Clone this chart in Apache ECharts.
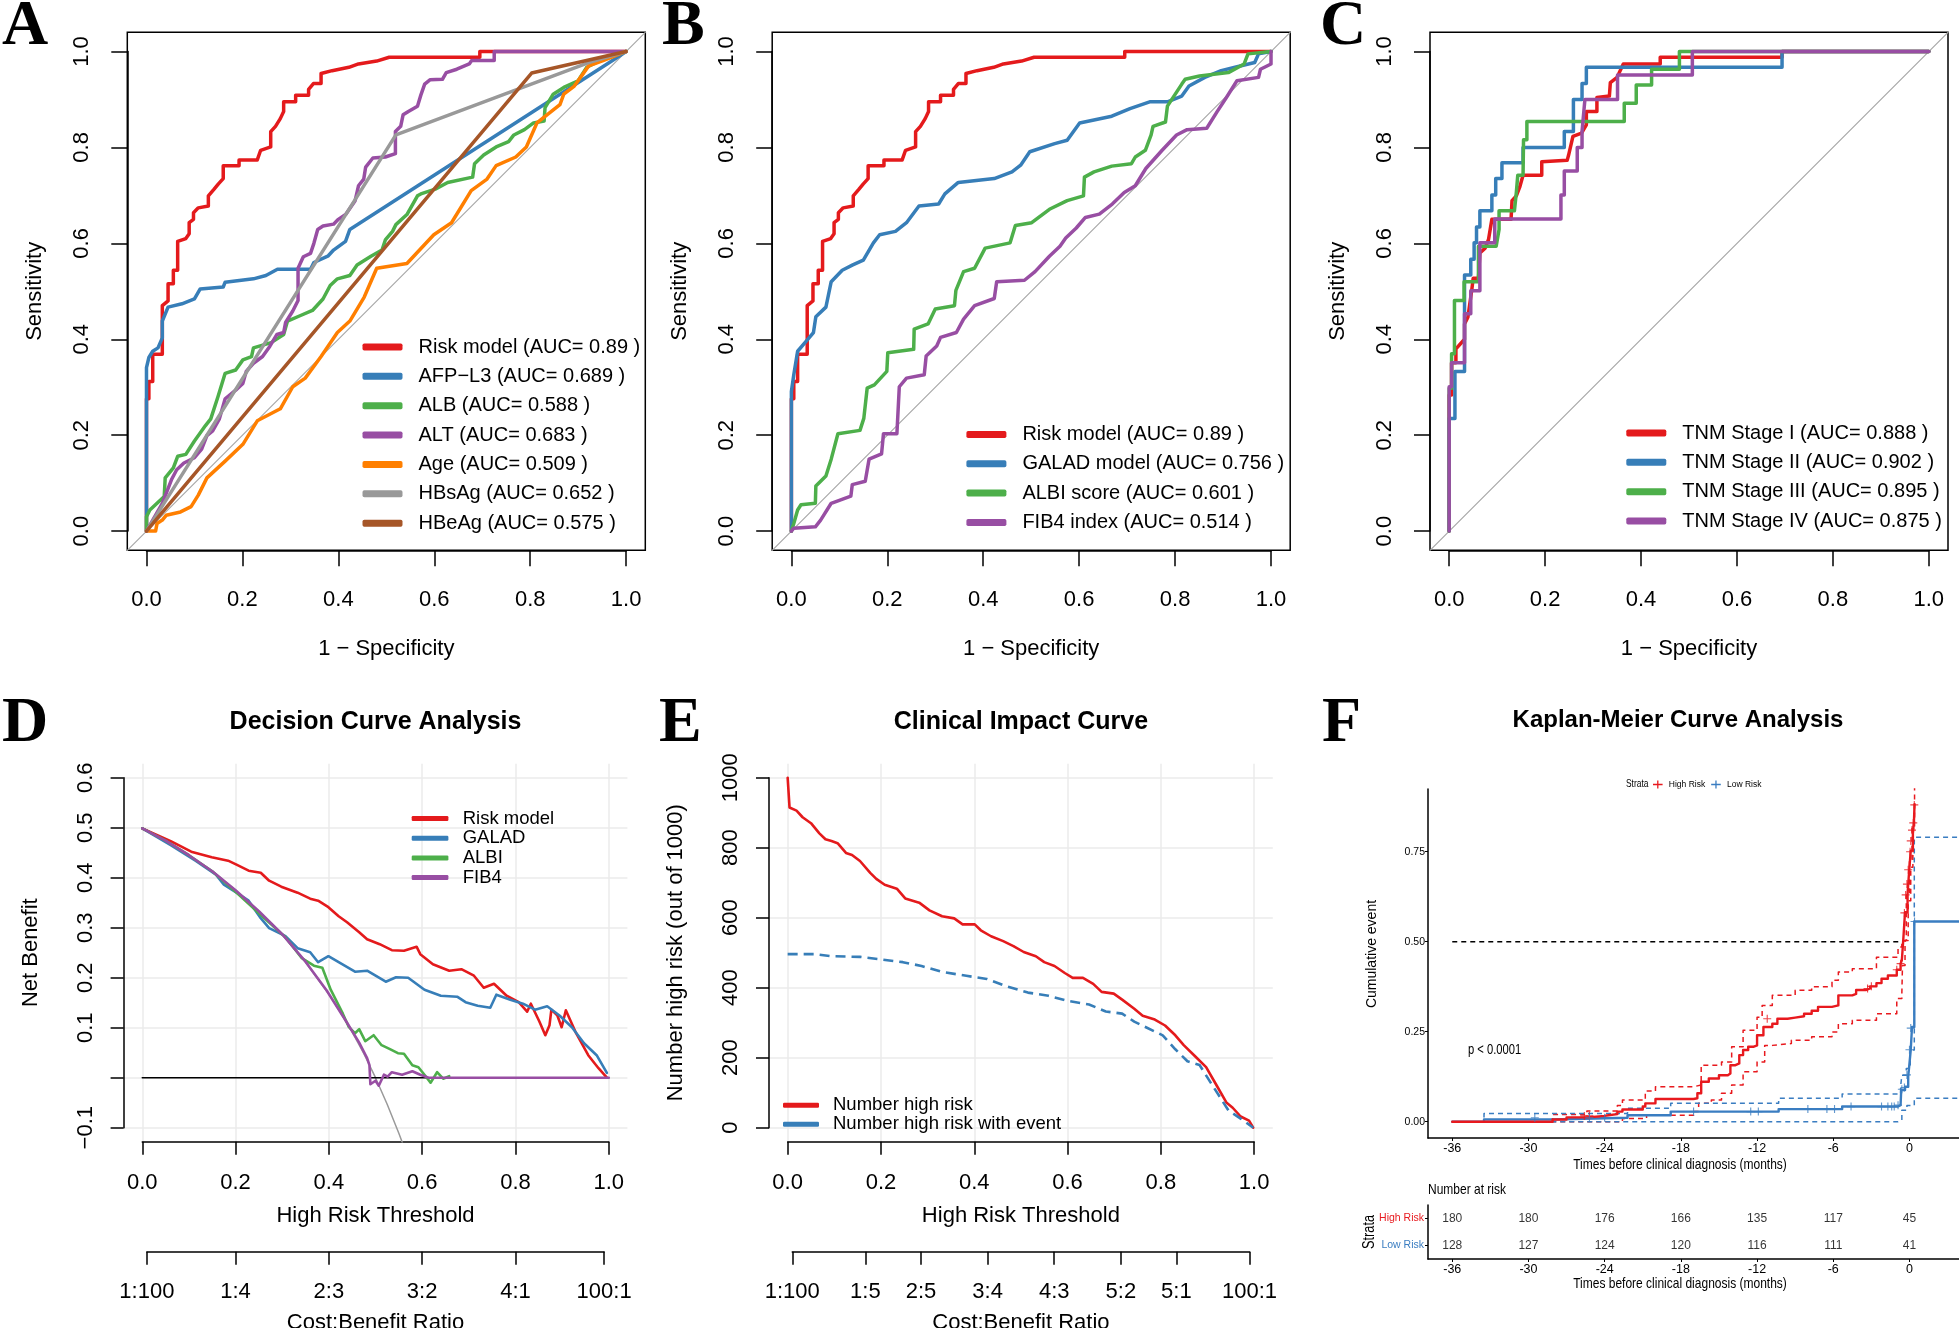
<!DOCTYPE html>
<html><head><meta charset="utf-8">
<script src="https://cdn.jsdelivr.net/npm/echarts@6/dist/echarts.min.js"></script>
<style>html,body{margin:0;padding:0;background:#fff}#chart{width:1959px;height:1328px}</style>
</head><body><div id="chart"></div>
<script>
// ======================= DATA =======================
// Panel A/B ROC curves: [1 - specificity, sensitivity]
const rocRiskModel = [[0,0],[0,0.276],[0.005,0.276],[0.005,0.312],[0.013,0.312],[0.013,0.369],[0.033,0.369],[0.033,0.47],[0.045,0.48],[0.045,0.516],[0.056,0.516],[0.056,0.544],[0.065,0.544],[0.065,0.604],[0.082,0.61],[0.082,0.614],[0.089,0.62],[0.089,0.643],[0.098,0.65],[0.098,0.664],[0.108,0.674],[0.129,0.678],[0.129,0.699],[0.141,0.713],[0.150,0.724],[0.160,0.735],[0.160,0.762],[0.193,0.762],[0.193,0.774],[0.231,0.774],[0.238,0.794],[0.259,0.801],[0.259,0.833],[0.269,0.844],[0.279,0.860],[0.286,0.875],[0.286,0.895],[0.311,0.895],[0.311,0.909],[0.338,0.909],[0.338,0.921],[0.348,0.933],[0.364,0.933],[0.364,0.954],[0.387,0.960],[0.422,0.967],[0.442,0.974],[0.480,0.980],[0.506,0.988],[0.695,0.988],[0.695,1.0],[1,1]];
const rocAFPL3 = [[0,0],[0,0.341],[0.005,0.362],[0.013,0.375],[0.024,0.382],[0.033,0.403],[0.033,0.438],[0.045,0.467],[0.074,0.474],[0.100,0.484],[0.112,0.505],[0.160,0.509],[0.164,0.519],[0.223,0.526],[0.249,0.533],[0.273,0.546],[0.342,0.546],[0.349,0.560],[0.379,0.574],[0.390,0.586],[0.415,0.604],[0.424,0.629],[0.97,0.98],[1,1]];
const rocALB = [[0,0],[0,0.030],[0.007,0.044],[0.022,0.058],[0.037,0.072],[0.039,0.111],[0.056,0.132],[0.065,0.156],[0.082,0.160],[0.100,0.188],[0.123,0.220],[0.134,0.234],[0.149,0.280],[0.164,0.329],[0.186,0.336],[0.201,0.357],[0.219,0.364],[0.223,0.382],[0.260,0.393],[0.286,0.410],[0.294,0.438],[0.320,0.449],[0.346,0.460],[0.368,0.484],[0.383,0.512],[0.398,0.526],[0.424,0.533],[0.439,0.555],[0.468,0.573],[0.491,0.586],[0.498,0.607],[0.513,0.625],[0.520,0.639],[0.543,0.660],[0.565,0.699],[0.572,0.703],[0.602,0.713],[0.628,0.727],[0.680,0.738],[0.684,0.766],[0.703,0.784],[0.729,0.801],[0.755,0.812],[0.766,0.826],[0.788,0.837],[0.807,0.851],[0.829,0.855],[0.831,0.883],[0.848,0.911],[0.870,0.925],[0.900,0.939],[0.918,0.967],[0.959,0.988],[1,1]];
const rocALT = [[0,0],[0.033,0.058],[0.052,0.107],[0.063,0.128],[0.078,0.142],[0.100,0.153],[0.115,0.171],[0.126,0.199],[0.138,0.209],[0.152,0.234],[0.164,0.276],[0.186,0.294],[0.201,0.308],[0.208,0.333],[0.223,0.350],[0.242,0.364],[0.257,0.385],[0.272,0.410],[0.286,0.414],[0.290,0.435],[0.305,0.459],[0.316,0.481],[0.316,0.548],[0.327,0.572],[0.342,0.579],[0.349,0.600],[0.357,0.629],[0.368,0.636],[0.390,0.640],[0.400,0.650],[0.416,0.661],[0.435,0.689],[0.442,0.720],[0.453,0.734],[0.457,0.759],[0.472,0.778],[0.498,0.780],[0.519,0.787],[0.519,0.833],[0.530,0.844],[0.535,0.868],[0.546,0.875],[0.565,0.886],[0.572,0.909],[0.580,0.932],[0.591,0.941],[0.617,0.942],[0.625,0.956],[0.647,0.963],[0.673,0.974],[0.678,0.981],[0.725,0.981],[0.725,1],[1,1]];
const rocAge = [[0,0],[0.019,0],[0.022,0.016],[0.033,0.023],[0.041,0.033],[0.071,0.040],[0.093,0.051],[0.108,0.075],[0.126,0.111],[0.164,0.146],[0.201,0.181],[0.231,0.230],[0.279,0.255],[0.305,0.301],[0.331,0.319],[0.364,0.364],[0.398,0.414],[0.424,0.438],[0.454,0.488],[0.480,0.548],[0.543,0.558],[0.599,0.618],[0.636,0.643],[0.677,0.710],[0.710,0.734],[0.729,0.762],[0.770,0.780],[0.792,0.801],[0.814,0.851],[0.862,0.889],[0.870,0.911],[0.892,0.928],[0.922,0.970],[0.952,0.981],[1,1]];
const rocHBsAg = [[0,0],[0.52,0.826],[0.922,0.977],[1,1]];
const rocHBeAg = [[0,0],[0.803,0.955],[1,1]];
// Panel B
const rocGALAD = [[0,0],[0,0.291],[0.005,0.326],[0.013,0.375],[0.031,0.396],[0.046,0.414],[0.051,0.447],[0.072,0.467],[0.083,0.520],[0.106,0.544],[0.128,0.555],[0.150,0.565],[0.171,0.601],[0.184,0.618],[0.217,0.625],[0.240,0.643],[0.266,0.678],[0.307,0.682],[0.320,0.703],[0.348,0.727],[0.423,0.735],[0.460,0.749],[0.478,0.763],[0.497,0.791],[0.549,0.808],[0.575,0.815],[0.601,0.851],[0.668,0.865],[0.706,0.881],[0.747,0.895],[0.784,0.895],[0.814,0.907],[0.829,0.928],[0.862,0.946],[0.896,0.960],[0.925,0.967],[0.966,0.977],[0.974,0.995],[1,1]];
const rocALBI = [[0,0],[0.005,0.016],[0.013,0.044],[0.020,0.055],[0.050,0.058],[0.051,0.094],[0.072,0.115],[0.083,0.150],[0.097,0.203],[0.143,0.210],[0.151,0.235],[0.158,0.298],[0.173,0.305],[0.199,0.333],[0.201,0.372],[0.255,0.379],[0.256,0.421],[0.285,0.432],[0.300,0.463],[0.340,0.470],[0.343,0.502],[0.359,0.541],[0.382,0.548],[0.404,0.590],[0.456,0.601],[0.467,0.637],[0.501,0.643],[0.538,0.671],[0.575,0.689],[0.609,0.699],[0.611,0.738],[0.631,0.749],[0.668,0.761],[0.709,0.766],[0.717,0.780],[0.738,0.794],[0.750,0.826],[0.754,0.844],[0.780,0.853],[0.784,0.886],[0.799,0.909],[0.814,0.932],[0.821,0.942],[0.851,0.949],[0.911,0.956],[0.944,0.974],[0.952,0.995],[1,1]];
const rocFIB4 = [[0,0],[0.005,0.006],[0.050,0.009],[0.061,0.023],[0.083,0.058],[0.124,0.073],[0.127,0.097],[0.154,0.104],[0.162,0.150],[0.188,0.161],[0.192,0.203],[0.220,0.203],[0.225,0.301],[0.240,0.319],[0.277,0.326],[0.281,0.365],[0.303,0.386],[0.311,0.404],[0.344,0.414],[0.359,0.442],[0.382,0.470],[0.423,0.485],[0.428,0.520],[0.486,0.523],[0.508,0.541],[0.538,0.573],[0.560,0.594],[0.572,0.611],[0.594,0.632],[0.613,0.654],[0.642,0.661],[0.669,0.682],[0.694,0.706],[0.717,0.720],[0.739,0.756],[0.773,0.794],[0.803,0.826],[0.825,0.837],[0.866,0.840],[0.888,0.875],[0.907,0.904],[0.929,0.939],[0.974,0.946],[0.978,0.963],[1.0,0.974],[1,1]];
// Panel C
const rocStageI = [[0,0],[0,0.284],[0.005,0.284],[0.005,0.351],[0.014,0.351],[0.014,0.38],[0.032,0.40],[0.032,0.432],[0.039,0.446],[0.047,0.502],[0.05,0.527],[0.061,0.527],[0.064,0.58],[0.075,0.59],[0.082,0.608],[0.089,0.65],[0.129,0.65],[0.131,0.689],[0.14,0.699],[0.147,0.717],[0.154,0.742],[0.193,0.742],[0.193,0.77],[0.246,0.773],[0.249,0.784],[0.258,0.823],[0.276,0.83],[0.286,0.847],[0.286,0.875],[0.308,0.875],[0.308,0.904],[0.334,0.907],[0.336,0.935],[0.35,0.946],[0.363,0.974],[0.44,0.974],[0.44,0.988],[0.694,0.988],[0.694,1],[1,1]];
const rocStageII = [[0,0],[0,0.235],[0.012,0.235],[0.012,0.333],[0.032,0.333],[0.032,0.534],[0.045,0.534],[0.045,0.567],[0.052,0.567],[0.052,0.601],[0.057,0.601],[0.057,0.634],[0.064,0.634],[0.064,0.668],[0.089,0.668],[0.089,0.701],[0.097,0.701],[0.097,0.735],[0.110,0.735],[0.110,0.768],[0.154,0.768],[0.154,0.800],[0.240,0.800],[0.240,0.833],[0.259,0.833],[0.259,0.900],[0.277,0.900],[0.277,0.933],[0.286,0.933],[0.286,0.967],[0.694,0.967],[0.694,1],[1,1]];
const rocStageIII = [[0,0],[0,0.298],[0.005,0.298],[0.005,0.370],[0.011,0.370],[0.011,0.481],[0.031,0.481],[0.031,0.520],[0.061,0.520],[0.061,0.594],[0.098,0.594],[0.104,0.629],[0.104,0.668],[0.136,0.668],[0.140,0.706],[0.143,0.742],[0.154,0.742],[0.155,0.816],[0.162,0.816],[0.162,0.854],[0.365,0.854],[0.365,0.892],[0.390,0.892],[0.390,0.930],[0.422,0.930],[0.422,0.963],[0.480,0.963],[0.480,1],[1,1]];
const rocStageIV = [[0,0],[0,0.301],[0.005,0.301],[0.005,0.351],[0.032,0.351],[0.032,0.453],[0.045,0.453],[0.045,0.501],[0.064,0.501],[0.064,0.601],[0.095,0.601],[0.095,0.651],[0.233,0.651],[0.233,0.701],[0.240,0.701],[0.240,0.751],[0.267,0.751],[0.267,0.800],[0.277,0.800],[0.277,0.833],[0.283,0.900],[0.351,0.900],[0.351,0.951],[0.507,0.951],[0.507,1],[1,1]];

// Panel D decision curves: [threshold, net benefit]
const dcaAll = [[0,0.5],[0.05,0.474],[0.1,0.444],[0.15,0.412],[0.2,0.375],[0.25,0.333],[0.3,0.286],[0.35,0.231],[0.4,0.167],[0.425,0.130],[0.45,0.091],[0.475,0.048],[0.5,0.0],[0.525,-0.053],[0.55,-0.111],[0.56,-0.136]];
const dcaNone = [[0,0],[1,0]];
const dcaRiskModel = [[0,0.4985],[0.061,0.473],[0.105,0.452],[0.149,0.441],[0.184,0.434],[0.202,0.426],[0.228,0.414],[0.254,0.410],[0.272,0.394],[0.298,0.382],[0.333,0.370],[0.360,0.358],[0.377,0.354],[0.399,0.341],[0.421,0.323],[0.439,0.311],[0.465,0.291],[0.482,0.277],[0.509,0.267],[0.535,0.255],[0.561,0.254],[0.588,0.262],[0.596,0.247],[0.623,0.227],[0.658,0.214],[0.684,0.217],[0.711,0.204],[0.732,0.180],[0.754,0.188],[0.781,0.164],[0.807,0.151],[0.825,0.132],[0.833,0.148],[0.851,0.113],[0.864,0.085],[0.873,0.105],[0.877,0.136],[0.890,0.124],[0.899,0.101],[0.908,0.135],[0.930,0.089],[0.956,0.045],[0.978,0.019],[0.996,0.0]];
const dcaGALAD = [[0,0.4985],[0.061,0.465],[0.114,0.434],[0.158,0.406],[0.175,0.386],[0.202,0.370],[0.228,0.354],[0.254,0.319],[0.272,0.299],[0.307,0.283],[0.333,0.259],[0.360,0.251],[0.377,0.231],[0.399,0.243],[0.421,0.231],[0.456,0.212],[0.482,0.214],[0.522,0.192],[0.544,0.201],[0.570,0.200],[0.605,0.176],[0.640,0.164],[0.675,0.162],[0.693,0.151],[0.719,0.144],[0.746,0.140],[0.759,0.166],[0.789,0.156],[0.816,0.148],[0.842,0.136],[0.868,0.143],[0.895,0.124],[0.921,0.101],[0.947,0.069],[0.974,0.045],[0.996,0.0095]];
const dcaALBI = [[0,0.4985],[0.05,0.474],[0.1,0.445],[0.15,0.413],[0.2,0.372],[0.263,0.318],[0.307,0.281],[0.342,0.239],[0.368,0.224],[0.386,0.220],[0.404,0.176],[0.430,0.128],[0.443,0.101],[0.456,0.089],[0.465,0.097],[0.478,0.073],[0.496,0.085],[0.513,0.065],[0.531,0.057],[0.548,0.049],[0.561,0.048],[0.579,0.025],[0.592,0.021],[0.605,0.006],[0.618,-0.010],[0.632,0.011],[0.645,-0.002],[0.658,0.003]];
const dcaFIB4 = [[0,0.4985],[0.05,0.474],[0.1,0.445],[0.15,0.413],[0.2,0.375],[0.25,0.333],[0.3,0.287],[0.35,0.232],[0.395,0.175],[0.439,0.110],[0.465,0.07],[0.482,0.039],[0.487,0.025],[0.489,-0.013],[0.500,-0.006],[0.507,-0.016],[0.518,0.006],[0.526,0.002],[0.535,0.011],[0.557,0.006],[0.579,0.013],[0.596,0.006],[0.614,0],[1.0,0]];
const dcaCostBenefit = ['1:100','1:4','2:3','3:2','4:1','100:1'];

// Panel E clinical impact: [threshold, number out of 1000]
const cicHighRisk = [[0,1000],[0.004,915],[0.019,906],[0.032,887],[0.050,870],[0.068,841],[0.081,824],[0.094,819],[0.107,813],[0.125,785],[0.138,779],[0.155,762],[0.177,728],[0.190,711],[0.208,694],[0.234,683],[0.252,655],[0.282,643],[0.304,621],[0.331,604],[0.357,598],[0.375,581],[0.401,581],[0.414,564],[0.436,547],[0.462,533],[0.484,519],[0.506,502],[0.532,490],[0.550,473],[0.572,462],[0.594,442],[0.611,428],[0.633,428],[0.655,411],[0.673,388],[0.699,383],[0.717,366],[0.743,340],[0.761,320],[0.787,309],[0.809,292],[0.831,264],[0.849,236],[0.875,202],[0.897,173],[0.919,122],[0.941,71],[0.954,57],[0.971,32],[0.989,20],[0.998,0]];
const cicWithEvent = [[0,496],[0.059,496],[0.094,490],[0.155,488],[0.199,481],[0.247,473],[0.287,462],[0.331,445],[0.383,434],[0.427,425],[0.471,403],[0.515,386],[0.559,377],[0.602,362],[0.646,352],[0.682,332],[0.717,326],[0.743,303],[0.768,287],[0.804,264],[0.831,224],[0.857,190],[0.883,179],[0.910,122],[0.945,49],[0.971,26],[0.998,0]];
const cicCostBenefit = ['1:100','1:5','2:5','3:4','4:3','5:2','5:1','100:1'];

// Panel F Kaplan-Meier: [months, cumulative event]
const kmHighRisk = [[-36,0],[-28.1,0.006],[-27.0,0.012],[-25.4,0.016],[-24.0,0.018],[-23.7,0.021],[-23.0,0.028],[-22.6,0.034],[-21.0,0.042],[-20.8,0.051],[-20.0,0.063],[-17.0,0.065],[-16.7,0.079],[-16.4,0.111],[-15.8,0.120],[-15.0,0.129],[-14.3,0.134],[-14.1,0.157],[-13.7,0.162],[-13.4,0.185],[-13.1,0.199],[-12.7,0.208],[-12.3,0.212],[-12.0,0.240],[-11.5,0.263],[-10.8,0.272],[-10.4,0.286],[-9.6,0.289],[-9.0,0.293],[-8.3,0.300],[-7.7,0.308],[-7.2,0.319],[-6.1,0.323],[-5.6,0.351],[-4.5,0.355],[-4.2,0.366],[-3.4,0.370],[-3.1,0.376],[-2.6,0.385],[-2.2,0.397],[-1.7,0.406],[-1.0,0.422],[-0.7,0.439],[-0.6,0.448],[-0.5,0.499],[-0.35,0.582],[-0.15,0.633],[-0.05,0.684],[0.1,0.753],[0.27,0.804],[0.35,0.831],[0.4,0.882]];
const kmHighUpper = [[-36,0],[-28.1,0.02],[-25.4,0.03],[-23.0,0.045],[-22.6,0.06],[-20.8,0.085],[-20.0,0.097],[-17.0,0.102],[-16.4,0.157],[-14.8,0.166],[-14.0,0.208],[-13.1,0.254],[-12.0,0.29],[-11.6,0.323],[-10.8,0.351],[-9.0,0.365],[-7.7,0.375],[-6.1,0.393],[-5.6,0.416],[-4.5,0.425],[-2.6,0.457],[-0.9,0.485],[-0.6,0.503],[-0.25,0.633],[0,0.725],[0.2,0.817],[0.4,0.933]];
const kmHighLower = [[-36,0],[-22.6,0.009],[-20.7,0.018],[-17,0.028],[-16.6,0.051],[-15.6,0.060],[-14.8,0.079],[-14,0.102],[-13.1,0.139],[-12,0.166],[-11.4,0.212],[-10.8,0.217],[-9.3,0.226],[-7.7,0.236],[-6.1,0.249],[-5.6,0.272],[-4.5,0.282],[-2.6,0.300],[-1.0,0.342],[-0.6,0.356],[-0.55,0.434],[-0.35,0.503],[-0.1,0.614],[0.1,0.707],[0.27,0.771],[0.35,0.845]];
const kmLowRisk = [[-36,0],[-33.5,0.006],[-28.2,0.011],[-22.2,0.018],[-18.8,0.028],[-10.3,0.035],[-5.3,0.042],[-0.9,0.046],[-0.7,0.051],[-0.65,0.088],[-0.35,0.097],[-0.1,0.125],[-0.05,0.143],[0.1,0.199],[0.2,0.263],[0.38,0.556],[3.9,0.556]];
const kmLowUpper = [[-36,0],[-33.5,0.023],[-22.2,0.037],[-18.8,0.051],[-10.3,0.065],[-5.3,0.077],[-0.7,0.097],[-0.6,0.129],[-0.25,0.148],[0.06,0.199],[0.38,0.79],[3.9,0.79]];
const kmLowLower = [[-36,0],[-0.9,0.005],[-0.6,0.032],[-0.2,0.045],[0.38,0.065],[3.9,0.065]];
const kmHighCensor = [[-25.6,0.016],[-25.2,0.016],[-11.2,0.286],[-3.3,0.370],[-3.0,0.376],[-1.0,0.422],[-0.7,0.439],[-0.4,0.58],[-0.3,0.63],[-0.2,0.66],[-0.1,0.70],[0.05,0.75],[0.1,0.78],[0.2,0.81],[0.3,0.83],[0.38,0.88]];
const kmLowCensor = [[-29.5,0.011],[-25.2,0.011],[-24.0,0.011],[-17.0,0.028],[-12.5,0.028],[-11.9,0.028],[-8.0,0.035],[-6.5,0.035],[-5.9,0.035],[-4.6,0.042],[-2.2,0.042],[-1.7,0.042],[-1.4,0.042],[-1.2,0.042],[-0.9,0.046],[-0.6,0.09],[-0.4,0.095],[-0.2,0.13],[0.0,0.2],[0.1,0.26],[0.4,0.556]];
const kmMedianLine = [[-36,0.5],[-0.5,0.5]];
const kmTimeTicks = [-36,-30,-24,-18,-12,-6,0];
const kmEventTicks = [0,0.25,0.5,0.75];
const kmStrata = ['Low Risk','High Risk'];
const kmAtRiskHigh = [180,180,176,166,135,117,45];
const kmAtRiskLow = [128,127,124,120,116,111,41];

// ======================= STYLE / LAYOUT =======================
const FONT = '"Liberation Sans", Arial, Helvetica, sans-serif';
const SERIF = '"Liberation Serif", "Times New Roman", serif';
const NARROW_SCALE = 0.8;
const C = {red:'#E41A1C', blue:'#377EB8', green:'#4DAF4A', purple:'#984EA3', orange:'#FF7F00', gray:'#999999', brown:'#A65628'};
const KM_RED = '#E8191E', KM_BLUE = '#3A7DC1';

function merge(a, b) {
  const o = Object.assign({}, a);
  for (const k in b) {
    const v = b[k];
    if (v && typeof v === 'object' && !Array.isArray(v) && typeof v !== 'function' && o[k] && typeof o[k] === 'object' && !Array.isArray(o[k])) o[k] = merge(o[k], v);
    else o[k] = v;
  }
  return o;
}
const grids = [], xAxis = [], yAxis = [], series = [], legend = [], graphic = [];
function addGrid(o) { grids.push(Object.assign({show:false, containLabel:false, outerBoundsMode:'none'}, o)); return grids.length - 1; }
function addX(o) { xAxis.push(o); return xAxis.length - 1; }
function addY(o) { yAxis.push(o); return yAxis.length - 1; }
function hidden(gi, min, max) { return {type:'value', gridIndex:gi, min:min, max:max, show:false, splitLine:{show:false}}; }
function lineS(name, data, xi, yi, color, width, extra) {
  series.push(merge({type:'line', name:name, data:data, xAxisIndex:xi, yAxisIndex:yi, symbol:'none', showSymbol:false,
    silent:true, animation:false, itemStyle:{color:color}, lineStyle:{color:color, width:width, cap:'round', join:'round'},
    emphasis:{disabled:true}, z:2}, extra || {}));
}
const rAxisBase = {
  type:'value', nameLocation:'middle', nameMoveOverlap:false,
  axisLine:{show:true, onZero:false, lineStyle:{color:'#000', width:1.5}},
  axisTick:{show:true, inside:false, length:13, lineStyle:{color:'#000', width:1.5}},
  axisLabel:{show:true, color:'#000', fontSize:22, fontFamily:FONT, showMinLabel:true, showMaxLabel:true},
  splitLine:{show:false},
  nameTextStyle:{color:'#000', fontSize:22, fontFamily:FONT}
};
const f1 = v => (v < -1e-9 ? '\u2212' : '') + Math.abs(v).toFixed(1);
// R drops the 0.0 label in panel D because it would overlap its neighbours
const f1NoZero = v => Math.abs(v) < 1e-9 ? '' : f1(v);
function rLegend(names, left, firstY, pitch, w, h, fs, padL) {
  legend.push({orient:'vertical', left:left, top:firstY - pitch / 2, padding:0, itemGap:0, itemWidth:w, itemHeight:h,
    icon:'roundRect', selectedMode:false, data:names,
    textStyle:{fontSize:fs, fontFamily:FONT, color:'#000', lineHeight:pitch, padding:[0, 0, 0, padL]}});
}
function txt(text, x, y, font, align, valign, extra) {
  graphic.push(merge({type:'text', x:x, y:y, silent:true, style:{text:text, font:font, fill:'#000', textAlign:align || 'left', textVerticalAlign:valign || 'middle'}}, extra || {}));
}
function ratioPos(label) { const p = label.split(':').map(Number); return p[0] / (p[0] + p[1]); }

// ---------- ROC panels ----------
const ROC_TOP = 32.3, ROC_SIZE = 518, ROC_UNIT = ROC_SIZE / 1.08, ROC_PAD = 0.04 * ROC_UNIT;
function rocPanel(boxLeft, curves, leg) {
  const gm = addGrid({left:boxLeft, top:ROC_TOP, width:ROC_SIZE, height:ROC_SIZE, show:true, borderColor:'#000', borderWidth:1.5, backgroundColor:'rgba(0,0,0,0)'});
  const xm = addX(hidden(gm, -0.04, 1.04)), ym = addY(hidden(gm, -0.04, 1.04));
  lineS('ref', [[-0.04, -0.04], [1.04, 1.04]], xm, ym, '#A8A8A8', 1.2);
  curves.forEach(c => lineS(c[0], c[1], xm, ym, c[2], 3.5));
  const gx = addGrid({left:boxLeft + ROC_PAD, top:ROC_TOP, width:ROC_UNIT, height:ROC_SIZE});
  addX(merge(rAxisBase, {gridIndex:gx, min:0, max:1, interval:0.2, position:'bottom', axisTick:{length:16},
    axisLabel:{margin:39, formatter:f1}, name:'1 \u2212 Specificity', nameGap:88}));
  addY(hidden(gx, 0, 1));
  const gy = addGrid({left:boxLeft, top:ROC_TOP + ROC_PAD, width:ROC_SIZE, height:ROC_UNIT});
  addX(hidden(gy, 0, 1));
  addY(merge(rAxisBase, {gridIndex:gy, min:0, max:1, interval:0.2, position:'left', axisTick:{length:16},
    axisLabel:{rotate:90, margin:34, formatter:f1}, name:'Sensitivity', nameGap:81, nameRotate:90}));
  rLegend(curves.map(c => c[0]), leg[0], leg[1], 29.36, 40, 7, 20, 11);
}
rocPanel(127.3, [
  ['Risk model (AUC= 0.89 )', rocRiskModel, C.red],
  ['AFP\u2212L3 (AUC= 0.689 )', rocAFPL3, C.blue],
  ['ALB (AUC= 0.588 )', rocALB, C.green],
  ['ALT (AUC= 0.683 )', rocALT, C.purple],
  ['Age (AUC= 0.509 )', rocAge, C.orange],
  ['HBsAg (AUC= 0.652 )', rocHBsAg, C.gray],
  ['HBeAg (AUC= 0.575 )', rocHBeAg, C.brown]
], [362.5, 347]);
rocPanel(772.2, [
  ['Risk model (AUC= 0.89 )', rocRiskModel, C.red],
  ['GALAD model (AUC= 0.756 )', rocGALAD, C.blue],
  ['ALBI score (AUC= 0.601 )', rocALBI, C.green],
  ['FIB4 index (AUC= 0.514 )', rocFIB4, C.purple]
], [966.4, 434.4]);
rocPanel(1430, [
  ['TNM Stage I (AUC= 0.888 )', rocStageI, C.red],
  ['TNM Stage II (AUC= 0.902 )', rocStageII, C.blue],
  ['TNM Stage III (AUC= 0.895 )', rocStageIII, C.green],
  ['TNM Stage IV (AUC= 0.875 )', rocStageIV, C.purple]
], [1626.3, 433]);

// ---------- D / E panels ----------
const DE_UX = 466.5, DE_YT = 777.7, DE_YB = 1127.7, DE_YPAD = 14;
function dePanel(usrLeft, ymin, ymax, yint, yfmt, yTitle, ratios) {
  const x0 = usrLeft + 0.04 * DE_UX, usrW = 1.08 * DE_UX, usrTop = DE_YT - DE_YPAD, usrH = DE_YB - DE_YT + 2 * DE_YPAD;
  const yr = ymax - ymin;
  const gm = addGrid({left:usrLeft, top:usrTop, width:usrW, height:usrH});
  const xm = addX(hidden(gm, -0.04, 1.04)), ym = addY(hidden(gm, ymin - 0.04 * yr, ymax + 0.04 * yr));
  const gx = addGrid({left:x0, top:usrTop, width:DE_UX, height:usrH});
  addX(merge(rAxisBase, {gridIndex:gx, min:0, max:1, interval:0.2, position:'bottom',
    axisLabel:{margin:30, formatter:f1}, splitLine:{show:true, lineStyle:{color:'#EBEBEB', width:1.5}},
    name:'High Risk Threshold', nameGap:63}));
  addY(hidden(gx, 0, 1));
  const gy = addGrid({left:usrLeft, top:DE_YT, width:usrW, height:DE_YB - DE_YT});
  addX(hidden(gy, 0, 1));
  addY(merge(rAxisBase, {gridIndex:gy, min:ymin, max:ymax, interval:yint, position:'left',
    axisLabel:{rotate:90, margin:27, formatter:yfmt}, splitLine:{show:true, lineStyle:{color:'#EBEBEB', width:1.5}},
    name:yTitle, nameGap:82, nameRotate:90}));
  const pos = ratios.map(ratioPos);
  const c0 = x0 + DE_UX * pos[0], c1 = x0 + DE_UX * pos[pos.length - 1];
  const gc = addGrid({left:c0, top:1200, width:c1 - c0, height:51.7});
  addX(merge(rAxisBase, {gridIndex:gc, min:pos[0], max:pos[pos.length - 1], position:'bottom',
    axisTick:{customValues:pos}, axisLabel:{customValues:pos, margin:29,
      formatter:v => { let bi = 0; pos.forEach((p, i) => { if (Math.abs(p - v) < Math.abs(pos[bi] - v)) bi = i; }); return ratios[bi]; }},
    name:'Cost:Benefit Ratio', nameGap:60}));
  addY(hidden(gc, 0, 1));
  return [xm, ym];
}
const dAx = dePanel(123.6, -0.1, 0.6, 0.1, f1NoZero, 'Net Benefit', dcaCostBenefit);
lineS('All', dcaAll, dAx[0], dAx[1], '#9A9A9A', 1.5);
lineS('None', dcaNone, dAx[0], dAx[1], '#000', 1.5);
lineS('Risk model', dcaRiskModel, dAx[0], dAx[1], C.red, 2.6);
lineS('GALAD', dcaGALAD, dAx[0], dAx[1], C.blue, 2.6);
lineS('ALBI', dcaALBI, dAx[0], dAx[1], C.green, 2.6);
lineS('FIB4', dcaFIB4, dAx[0], dAx[1], C.purple, 2.6);
rLegend(['Risk model','GALAD','ALBI','FIB4'], 411.7, 818.5, 19.7, 36.7, 5, 18.5, 9.3);

const eAx = dePanel(769.0, 0, 1000, 200, v => String(Math.round(v)), 'Number high risk (out of 1000)', cicCostBenefit);
lineS('Number high risk', cicHighRisk, eAx[0], eAx[1], C.red, 2.6);
lineS('Number high risk with event', cicWithEvent, eAx[0], eAx[1], C.blue, 2.6, {lineStyle:{type:[10, 6], cap:'butt'}});
rLegend(['Number high risk','Number high risk with event'], 783, 1105.3, 19, 36, 5, 18.5, 9);

// ---------- F panel ----------
const KM_X = [-37.91, 3.9];
const kmAxisLine = {show:true, onZero:false, lineStyle:{color:'#000', width:1.5}};
const gk = addGrid({left:1428, top:789, width:531, height:349});
const kx = addX({type:'value', gridIndex:gk, min:KM_X[0], max:KM_X[1], axisLine:kmAxisLine,
  axisTick:{show:true, length:3, customValues:kmTimeTicks, lineStyle:{color:'#000', width:1}},
  axisLabel:{customValues:kmTimeTicks, margin:4, fontSize:12.5, fontFamily:FONT, color:'#000', formatter:v => String(v), showMinLabel:true, showMaxLabel:true},
  splitLine:{show:false}});
const ky = addY({type:'value', gridIndex:gk, min:-0.0453, max:0.9242, axisLine:kmAxisLine,
  axisTick:{show:true, length:3, customValues:kmEventTicks, lineStyle:{color:'#000', width:1}},
  axisLabel:{customValues:kmEventTicks, margin:3, fontSize:10.5, fontFamily:FONT, color:'#000', formatter:v => v.toFixed(2), showMinLabel:true, showMaxLabel:true},
  splitLine:{show:false}});
const ciDash = {lineStyle:{type:[5, 4], cap:'butt'}, step:'end'};
lineS('median', kmMedianLine, kx, ky, '#000', 1.5, {lineStyle:{type:[5, 4], cap:'butt'}});
lineS('High Risk upper', kmHighUpper, kx, ky, KM_RED, 1.5, ciDash);
lineS('High Risk lower', kmHighLower, kx, ky, KM_RED, 1.5, ciDash);
lineS('Low Risk upper', kmLowUpper, kx, ky, KM_BLUE, 1.5, ciDash);
lineS('Low Risk lower', kmLowLower, kx, ky, KM_BLUE, 1.5, ciDash);
lineS('Low Risk', kmLowRisk, kx, ky, KM_BLUE, 2.4, {step:'end'});
lineS('High Risk', kmHighRisk, kx, ky, KM_RED, 2.4, {step:'end'});
const crossIcon = 'path://M0,4.2H12V5.8H0Z M5.2,0H6.8V10H5.2Z';
const plusSym = 'path://M0,4.3H10V5.7H0Z M4.3,0H5.7V10H4.3Z';
series.push({type:'scatter', name:'High Risk censor', xAxisIndex:kx, yAxisIndex:ky, data:kmHighCensor, symbol:plusSym, symbolSize:8, itemStyle:{color:KM_RED}, silent:true, z:3});
series.push({type:'scatter', name:'Low Risk censor', xAxisIndex:kx, yAxisIndex:ky, data:kmLowCensor, symbol:plusSym, symbolSize:8, itemStyle:{color:KM_BLUE}, silent:true, z:3});
legend.push({orient:'horizontal', left:1653, top:780, padding:0, itemGap:6, itemWidth:12, itemHeight:8, selectedMode:false,
  data:[{name:'High Risk', icon:crossIcon}, {name:'Low Risk', icon:crossIcon}],
  textStyle:{fontSize:8.5, fontFamily:FONT, color:'#000'}});

// risk table
const gt = addGrid({left:1428, top:1205, width:531, height:54});
const tx = addX({type:'value', gridIndex:gt, min:KM_X[0], max:KM_X[1], axisLine:kmAxisLine,
  axisTick:{show:true, length:3, customValues:kmTimeTicks, lineStyle:{color:'#000', width:1}},
  axisLabel:{customValues:kmTimeTicks, margin:4, fontSize:12.5, fontFamily:FONT, color:'#000', formatter:v => String(v), showMinLabel:true, showMaxLabel:true},
  splitLine:{show:false}});
const ty = addY({type:'category', gridIndex:gt, data:kmStrata, axisLine:kmAxisLine,
  axisTick:{show:true, alignWithLabel:true, length:3, lineStyle:{color:'#000', width:1}},
  axisLabel:{margin:4, fontSize:10.5, fontFamily:FONT, color:(v) => v === 'High Risk' ? KM_RED : KM_BLUE},
  splitLine:{show:false}});
const tableData = [];
kmTimeTicks.forEach((t, i) => { tableData.push([t, 'High Risk', kmAtRiskHigh[i]]); tableData.push([t, 'Low Risk', kmAtRiskLow[i]]); });
series.push({type:'scatter', name:'at risk', xAxisIndex:tx, yAxisIndex:ty, data:tableData, symbolSize:1, silent:true,
  itemStyle:{color:'rgba(0,0,0,0)'},
  label:{show:true, position:'inside', formatter:p => String(p.value[2]), fontSize:12, fontFamily:FONT, color:'#000'}});

// ---------- texts ----------
const letterFont = 'bold 64px ' + SERIF;
txt('A', 2, 27, letterFont); txt('B', 662, 27, letterFont); txt('C', 1320, 27, letterFont);
txt('D', 2, 724, letterFont); txt('E', 659, 724, letterFont); txt('F', 1322, 724, letterFont);
const titleFont = 'bold 25px ' + FONT;
txt('Decision Curve Analysis', 123.6 + 1.08 * DE_UX / 2, 722, titleFont, 'center');
txt('Clinical Impact Curve', 769.0 + 1.08 * DE_UX / 2, 722, titleFont, 'center');
txt('Kaplan-Meier Curve Analysis', 1678, 720.5, 'bold 24px ' + FONT, 'center');
const narrow = {scaleX:NARROW_SCALE};
txt('Strata', 1626, 784, '10.5px ' + FONT, 'left', 'middle', narrow);
txt('Cumulative event', 1372, 954, '14px ' + FONT, 'center', 'middle', {rotation:Math.PI / 2});
txt('p < 0.0001', 1468, 1050, '14px ' + FONT, 'left', 'middle', narrow);
txt('Times before clinical diagnosis (months)', 1680, 1165, '15px ' + FONT, 'center', 'middle', narrow);
txt('Number at risk', 1428, 1190, '15px ' + FONT, 'left', 'middle', narrow);
txt('Strata', 1370, 1232, '16px ' + FONT, 'center', 'middle', {rotation:Math.PI / 2, scaleX:NARROW_SCALE});
txt('Times before clinical diagnosis (months)', 1680, 1284, '15px ' + FONT, 'center', 'middle', narrow);

const chart = echarts.init(document.getElementById('chart'), null, {renderer:'canvas', width:1959, height:1328});
chart.setOption({
  animation:false, backgroundColor:'#ffffff',
  textStyle:{fontFamily:FONT},
  grid:grids, xAxis:xAxis, yAxis:yAxis, series:series, legend:legend, graphic:{elements:graphic},
  tooltip:{show:false}
});
</script></body></html>
